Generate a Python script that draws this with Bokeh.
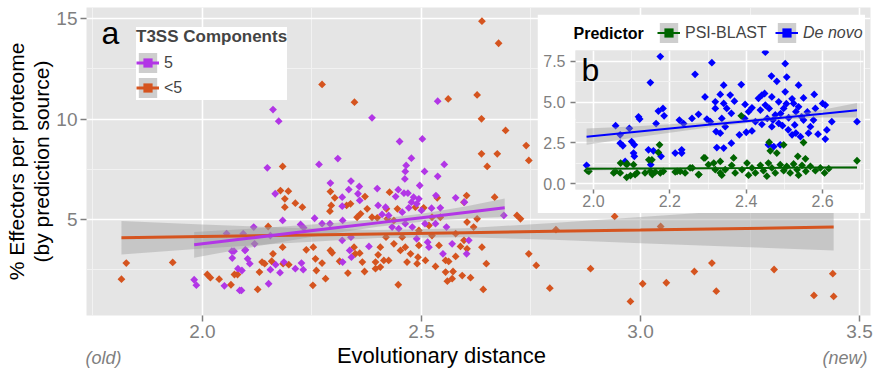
from bokeh.plotting import figure
from bokeh.models import (FixedTicker, Label, Legend, LegendItem, NumeralTickFormatter, Range1d, GridBox)
from bokeh.embed import file_html
from bokeh.resources import INLINE

# ---------------- data: main panel (a) ----------------
orange_x = [1.826, 1.815, 1.932, 2.011, 2.018, 2.038, 2.065, 2.073, 2.080, 2.347, 2.183, 2.196, 2.178,
            2.188, 2.188, 2.212, 2.228, 2.292, 2.302, 2.294, 2.291, 2.329, 2.338, 2.371, 2.376, 2.150,
            2.183, 2.161, 2.136, 2.142, 2.158, 2.184, 2.197, 2.130, 2.126, 2.252, 2.237, 2.253, 2.258,
            2.273, 2.260, 2.281, 2.292, 2.296, 2.313, 2.332, 2.346, 2.349, 2.359, 2.365, 2.370, 2.395,
            2.401, 2.406, 2.414, 2.406, 2.395, 2.419, 2.353, 2.361, 2.387, 2.399, 2.422, 2.561, 2.627,
            2.637, 2.692, 2.739, 2.745, 2.637, 2.673, 2.650, 2.603, 2.597, 2.667, 2.536, 2.427, 2.420,
            2.445, 2.505, 2.486, 2.718, 2.726, 2.627, 2.604, 2.619, 2.578, 2.597, 2.589, 2.604, 2.638,
            2.578, 2.555, 2.562, 2.532, 2.509, 2.492, 2.648, 2.555, 2.572, 2.593, 2.612, 2.570, 2.559,
            2.641, 2.447, 2.745, 2.762, 2.463, 2.475, 2.467, 2.490, 2.452, 2.437, 2.425, 2.494, 2.456,
            2.524, 2.540, 2.437, 2.524, 2.543, 2.517, 2.494, 2.273, 2.638, 2.676, 2.793, 2.886, 2.941,
            2.977, 3.005, 3.059, 3.123, 3.163, 3.173, 3.305, 3.396, 3.439, 3.441, 2.807, 3.046]
orange_y = [2.83, 2.03, 2.86, 2.26, 2.10, 2.03, 1.75, 2.26, 2.26, 10.84, 7.64, 6.41, 6.44,
            6.03, 5.61, 5.81, 5.61, 6.39, 6.08, 5.70, 5.41, 5.70, 5.78, 6.14, 5.53, 4.65,
            3.62, 3.29, 2.88, 2.80, 2.92, 2.80, 2.75, 2.38, 1.52, 1.72, 3.49, 3.62, 3.04,
            2.83, 2.46, 2.05, 3.46, 3.34, 2.92, 2.33, 3.62, 3.29, 3.32, 2.88, 2.41, 2.88,
            3.24, 3.62, 2.96, 2.63, 2.55, 4.12, 5.11, 5.28, 5.11, 5.08, 5.03, 11.00, 11.20,
            10.01, 9.43, 8.68, 7.94, 8.27, 8.27, 7.64, 6.19, 5.86, 6.11, 6.08, 6.36, 5.53,
            5.53, 5.58, 5.61, 5.20, 5.03, 5.03, 4.87, 4.62, 4.29, 3.96, 3.66, 3.54, 3.62,
            3.16, 2.96, 2.91, 2.66, 2.96, 3.12, 2.80, 2.38, 2.41, 2.21, 2.10, 2.05, 1.93,
            1.52, 1.75, 3.29, 2.71, 3.62, 3.29, 2.88, 2.80, 3.46, 3.79, 2.96, 3.71, 4.12,
            4.20, 3.71, 4.95, 5.11, 5.11, 4.70, 4.45, 11.72, 14.87, 13.77, 1.58, 2.55, 5.15,
            0.92, 1.80, 1.85, 2.41, 2.83, 1.43, 2.51, 1.22, 2.30, 1.17, 4.49, 4.65]

purple_x = [1.981, 1.986, 2.050, 2.085, 2.067, 2.072, 2.068, 2.081, 2.090, 2.097, 2.055, 2.093,
            2.161, 2.174, 2.148, 2.266, 2.309, 2.387, 2.166, 2.183, 2.117, 2.119, 2.098, 2.103,
            2.108, 2.089, 2.151, 2.177, 2.167, 2.155, 2.186, 2.212, 2.226, 2.230, 2.224, 2.256,
            2.273, 2.292, 2.291, 2.319, 2.319, 2.320, 2.339, 2.334, 2.358, 2.355, 2.359, 2.399,
            2.401, 2.418, 2.410, 2.319, 2.336, 2.340, 2.320, 2.380, 2.339, 2.231, 2.155, 2.537,
            2.450, 2.502, 2.477, 2.465, 2.463, 2.462, 2.507, 2.552, 2.537, 2.496, 2.447, 2.460,
            2.469, 2.441, 2.482, 2.494, 2.477, 2.489, 2.533, 2.578, 2.598, 2.543, 2.523, 2.500,
            2.471, 2.456, 2.425, 2.688, 2.433, 2.448, 2.463, 2.479, 2.508, 2.532, 2.557, 2.608,
            2.570, 2.514, 2.489, 2.517, 2.603, 2.549]
purple_y = [2.00, 1.73, 1.70, 1.47, 3.42, 3.42, 3.08, 2.55, 2.46, 3.46, 4.30, 4.29,
            10.47, 9.89, 7.57, 7.74, 8.03, 10.06, 6.28, 4.95, 4.62, 3.79, 3.49, 3.04,
            2.80, 1.47, 1.80, 2.35, 2.75, 2.50, 2.88, 2.55, 2.83, 2.50, 4.75, 5.06,
            4.79, 6.81, 4.79, 6.11, 5.66, 4.95, 6.91, 6.49, 6.64, 6.28, 5.95, 6.54,
            5.70, 5.61, 5.25, 3.96, 3.46, 3.12, 2.88, 3.66, 4.12, 4.59, 4.20, 10.89,
            8.88, 9.01, 8.05, 7.69, 7.39, 7.02, 7.39, 7.74, 7.15, 6.69, 6.48, 6.31,
            6.31, 6.14, 6.11, 6.03, 5.86, 5.78, 6.19, 6.08, 5.86, 5.58, 5.56, 5.45,
            5.58, 5.36, 5.20, 5.20, 4.62, 4.54, 4.79, 4.62, 4.79, 4.79, 4.62, 3.96,
            3.79, 3.87, 4.04, 3.62, 3.29, 3.29]

# fitted lines with confidence bands
orange_fit_x = [1.815, 2.0, 2.2, 2.4, 2.6, 2.8, 3.0, 3.2, 3.441]
orange_fit_y = [4.09, 4.15, 4.21, 4.28, 4.34, 4.41, 4.47, 4.54, 4.62]
orange_fit_lo = [3.26, 3.55, 3.83, 4.08, 4.12, 3.99, 3.82, 3.66, 3.46]
orange_fit_hi = [4.92, 4.75, 4.59, 4.48, 4.56, 4.83, 5.12, 5.42, 5.78]

purple_fit_x = [1.981, 2.1, 2.2, 2.3, 2.4, 2.5, 2.6, 2.69]
purple_fit_y = [3.74, 4.05, 4.31, 4.57, 4.83, 5.09, 5.35, 5.58]
purple_fit_lo = [3.10, 3.57, 3.95, 4.32, 4.64, 4.89, 5.05, 5.12]
purple_fit_hi = [4.38, 4.53, 4.67, 4.82, 5.02, 5.29, 5.65, 6.04]

main_x_ticks = [2.0, 2.5, 3.0, 3.5]
main_x_minor = [1.75, 2.25, 2.75, 3.25]
main_y_ticks = [5, 10, 15]
main_y_minor = [2.5, 7.5, 12.5]

# ---------------- data: inset panel (b) ----------------
blue_x = [2.175, 2.310, 2.266, 2.149, 2.292, 2.319, 2.332, 2.182, 2.170, 2.185, 2.118, 2.121, 2.058,
          2.164, 2.225, 2.236, 2.258, 2.275, 2.297, 2.306, 2.094, 2.070, 2.070, 2.077, 2.100, 2.107,
          2.105, 2.107, 2.083, 2.144, 2.157, 2.177, 2.150, 2.214, 2.231, 2.231, 2.321, 2.323, 2.319,
          1.982, 2.336, 2.450, 2.502, 2.466, 2.480, 2.506, 2.537, 2.387, 2.341, 2.358, 2.369, 2.341,
          2.349, 2.361, 2.397, 2.415, 2.406, 2.396, 2.441, 2.448, 2.467, 2.485, 2.450, 2.437, 2.460,
          2.476, 2.498, 2.524, 2.537, 2.550, 2.578, 2.581, 2.600, 2.530, 2.511, 2.485, 2.467, 2.441,
          2.424, 2.415, 2.400, 2.382, 2.361, 2.341, 2.332, 2.345, 2.520, 2.542, 2.563, 2.568, 2.588,
          2.607, 2.611, 2.624, 2.550, 2.576, 2.527, 2.458, 2.472, 2.489, 2.690, 2.607, 2.502, 2.432,
          2.455, 2.470, 2.490, 2.510, 2.530, 2.545, 2.560, 2.505, 2.520, 2.495]
blue_y = [7.80, 7.42, 6.71, 6.20, 5.32, 5.02, 5.47, 4.61, 4.45, 4.16, 4.10, 3.96, 3.55,
          3.68, 3.90, 3.68, 4.00, 4.25, 3.96, 3.80, 3.39, 2.99, 2.48, 2.32, 2.58, 2.38,
          1.87, 1.67, 1.36, 2.07, 2.01, 1.67, 1.16, 1.87, 2.07, 1.87, 3.19, 2.21, 4.61,
          1.12, 4.00, 8.07, 7.36, 6.60, 6.28, 6.54, 6.04, 6.08, 6.04, 5.43, 5.06, 4.92,
          4.61, 4.31, 4.86, 4.65, 4.41, 4.00, 5.43, 5.53, 5.32, 5.02, 4.82, 4.51, 4.61,
          4.21, 4.61, 4.92, 4.71, 5.26, 5.47, 4.61, 4.92, 4.41, 4.04, 3.70, 3.49, 3.64,
          3.80, 3.23, 3.15, 2.99, 2.48, 2.18, 3.09, 3.49, 2.99, 2.88, 3.09, 3.49, 3.03,
          2.73, 3.29, 3.80, 3.90, 3.90, 3.60, 2.38, 2.27, 2.38, 3.80, 4.82, 5.63, 5.23,
          4.00, 3.90, 4.30, 3.30, 3.10, 4.10, 4.40, 4.90, 5.20, 3.55]

green_x = [2.173, 2.170, 2.153, 1.984, 2.057, 2.070, 2.087, 2.105, 2.087, 2.109, 2.135, 2.162, 2.175,
           2.183, 2.214, 2.227, 2.240, 2.253, 2.275, 2.292, 2.301, 2.319, 2.332, 2.332, 2.149, 2.387,
           2.460, 2.463, 2.480, 2.498, 2.550, 2.367, 2.535, 2.555, 2.690, 2.345, 2.362, 2.371, 2.389,
           2.402, 2.415, 2.424, 2.437, 2.445, 2.458, 2.467, 2.476, 2.489, 2.498, 2.506, 2.515, 2.524,
           2.533, 2.546, 2.556, 2.568, 2.581, 2.594, 2.605, 2.616, 2.336, 2.406, 2.454, 2.537, 1.988,
           2.053, 2.071, 2.088, 2.097, 2.114, 2.145, 2.154, 2.219, 2.259, 2.276, 2.289, 2.315]
green_y = [2.38, 1.91, 1.46, 0.79, 0.75, 0.65, 1.16, 1.16, 0.38, 0.55, 0.65, 0.71, 0.65,
           0.75, 0.71, 0.75, 0.65, 0.96, 0.55, 1.57, 1.16, 0.85, 1.36, 0.65, 0.75, 4.16,
           2.54, 2.01, 1.87, 2.38, 2.52, 1.57, 1.67, 1.52, 1.40, 0.85, 1.12, 0.65, 0.85,
           1.26, 0.96, 0.65, 1.12, 0.79, 1.26, 0.96, 0.65, 1.16, 0.79, 1.06, 0.65, 1.20,
           0.85, 1.12, 0.75, 1.06, 0.79, 0.96, 0.65, 0.91, 0.51, 0.51, 0.45, 0.51, 0.75,
           0.65, 1.26, 1.22, 0.49, 0.65, 1.46, 0.55, 0.75, 0.96, 0.55, 1.57, 1.26]

blue_fit_x = [1.982, 2.1, 2.2, 2.3, 2.4, 2.5, 2.6, 2.69]
blue_fit_y = [2.88, 3.15, 3.38, 3.61, 3.83, 4.06, 4.29, 4.50]
blue_fit_lo = [2.38, 2.79, 3.12, 3.44, 3.71, 3.93, 4.05, 4.05]
blue_fit_hi = [3.38, 3.51, 3.64, 3.78, 3.95, 4.19, 4.53, 4.95]

green_fit_x = [1.982, 2.1, 2.2, 2.3, 2.4, 2.5, 2.6, 2.69]
green_fit_y = [0.91, 0.92, 0.93, 0.94, 0.95, 0.97, 0.98, 0.99]
green_fit_lo = [0.79, 0.84, 0.87, 0.90, 0.92, 0.94, 0.93, 0.90]
green_fit_hi = [1.03, 1.00, 0.99, 0.98, 0.98, 1.00, 1.03, 1.08]

inset_x_ticks = [2.0, 2.2, 2.4, 2.6]
inset_x_minor = [2.1, 2.3, 2.5, 2.7]
inset_y_ticks = [0.0, 2.5, 5.0, 7.5]
inset_y_minor = [1.25, 3.75, 6.25]

# ---------------- style ----------------
FONT = "Liberation Sans"
PURPLE = "#B236E6"
ORANGE = "#D5541F"
BLUE = "#0000FF"
GREEN = "#006400"
PANEL = "#E5E5E5"
TICK = "#7F7F7F"
BAND = "#999999"
KEYBG = "#CECECE"


def style_axes(fig, tick_size, title_size):
    for ax in (fig.xaxis[0], fig.yaxis[0]):
        ax.axis_line_color = None
        ax.major_tick_line_color = TICK
        ax.major_tick_line_width = 1.5
        ax.major_tick_in = 0
        ax.major_tick_out = 6
        ax.minor_tick_line_color = None
        ax.major_label_text_color = TICK
        ax.major_label_text_font = FONT
        ax.major_label_text_font_size = tick_size
        ax.major_label_standoff = 3
        ax.axis_label_text_font = FONT
        ax.axis_label_text_font_style = "normal"
        ax.axis_label_text_color = "black"
        ax.axis_label_text_font_size = title_size
        ax.axis_label_text_line_height = 1.1
        ax.axis_label_standoff = 0
    for g in (fig.xgrid[0], fig.ygrid[0]):
        g.grid_line_color = "white"
        g.grid_line_width = 1.6
        g.minor_grid_line_color = "#F2F2F2"
        g.minor_grid_line_width = 1


def blank_strip(w, h):
    f = figure(width=w, height=h, x_range=Range1d(0, 1), y_range=Range1d(0, 1), title=None,
               output_backend="svg", toolbar_location=None, x_axis_type=None, y_axis_type=None,
               min_border_left=0, min_border_right=0, min_border_top=0, min_border_bottom=0,
               frame_align=False)
    f.background_fill_alpha = 0
    f.border_fill_alpha = 0
    f.outline_line_color = None
    f.grid.visible = False
    return f


# ---------------- main figure ----------------
p = figure(width=873, height=369, x_range=Range1d(1.7352, 3.5251), y_range=Range1d(0.22, 15.55),
           output_backend="svg", toolbar_location=None, frame_align=False,
           min_border_left=86, min_border_right=3, min_border_top=7, min_border_bottom=54)
p.background_fill_color = PANEL
p.border_fill_color = "white"
p.outline_line_color = None
p.xaxis.ticker = FixedTicker(ticks=main_x_ticks, minor_ticks=main_x_minor)
p.yaxis.ticker = FixedTicker(ticks=main_y_ticks, minor_ticks=main_y_minor)
p.xaxis.formatter = NumeralTickFormatter(format="0.0")
p.yaxis.axis_label = "% Effectors per proteome\n(by prediction source)"
style_axes(p, "19px", "21px")

o_pts = p.scatter(orange_x, orange_y, marker="square", size=5.5, angle=45, angle_units="deg",
                  fill_color=ORANGE, line_color=None)
p_pts = p.scatter(purple_x, purple_y, marker="square", size=5.5, angle=45, angle_units="deg",
                  fill_color=PURPLE, line_color=None)
p.varea(x=orange_fit_x, y1=orange_fit_lo, y2=orange_fit_hi, fill_color=BAND, fill_alpha=0.4)
p.varea(x=purple_fit_x, y1=purple_fit_lo, y2=purple_fit_hi, fill_color=BAND, fill_alpha=0.4)
o_line = p.line(orange_fit_x, orange_fit_y, line_color=ORANGE, line_width=3)
p_line = p.line(purple_fit_x, purple_fit_y, line_color=PURPLE, line_width=3)
# legend-key background (only shown inside the legend)
key_bg = p.quad(left=orange_fit_x[:1], right=orange_fit_x[-1:], bottom=orange_fit_lo[:1],
                top=orange_fit_hi[:1], fill_color=KEYBG, line_color=None, visible=False)

legend = Legend(items=[LegendItem(label="5", renderers=[key_bg, p_line, p_pts]),
                       LegendItem(label="<5", renderers=[key_bg, o_line, o_pts])],
                location=(50, 215), title="T3SS Components",
                title_text_font=FONT, title_text_font_style="bold", title_text_font_size="17px",
                title_standoff=3, label_text_font=FONT, label_text_font_size="16px",
                label_standoff=5, glyph_width=23, glyph_height=25, spacing=0,
                padding=5, margin=0, border_line_color=None,
                background_fill_color="white", background_fill_alpha=1)
p.add_layout(legend)
p.add_layout(Label(x=15, y=283, x_units="screen", y_units="screen", text="a",
                   text_font=FONT, text_font_size="32px", text_color="black",
                   text_baseline="middle"))

# ---------------- bottom text strip (x title and old/new marks) ----------------
t = blank_strip(873, 70)
t.add_layout(Label(x=85, y=12, x_units="screen", y_units="screen", text="(old)",
                   text_font=FONT, text_font_size="18px", text_font_style="italic",
                   text_color=TICK, text_baseline="middle", text_align="left"))
t.add_layout(Label(x=867, y=12, x_units="screen", y_units="screen", text="(new)",
                   text_font=FONT, text_font_size="18px", text_font_style="italic",
                   text_color=TICK, text_baseline="middle", text_align="right"))
t.add_layout(Label(x=441, y=14, x_units="screen", y_units="screen", text="Evolutionary distance",
                   text_font=FONT, text_font_size="22px", text_color="black",
                   text_baseline="middle", text_align="center"))
t.margin = (299, 0, 0, 0)

# ---------------- inset figure ----------------
q = figure(width=328, height=199, x_range=Range1d(1.953, 2.707), y_range=Range1d(-0.366, 8.17),
           output_backend="svg", toolbar_location=None, frame_align=False,
           min_border_left=38, min_border_right=2, min_border_top=36, min_border_bottom=24)
q.background_fill_color = PANEL
q.border_fill_color = "white"
q.outline_line_color = None
q.xaxis.ticker = FixedTicker(ticks=inset_x_ticks, minor_ticks=inset_x_minor)
q.yaxis.ticker = FixedTicker(ticks=inset_y_ticks, minor_ticks=inset_y_minor)
q.xaxis.formatter = NumeralTickFormatter(format="0.0")
q.yaxis.formatter = NumeralTickFormatter(format="0.0")
style_axes(q, "16px", "16px")
q.xaxis.major_tick_out = 4
q.xaxis.major_label_standoff = 1
q.yaxis.major_tick_out = 5
q.yaxis.major_label_standoff = 5

q.scatter(blue_x, blue_y, marker="square", size=5.5, angle=45, angle_units="deg",
          fill_color=BLUE, line_color=None)
q.scatter(green_x, green_y, marker="square", size=5.5, angle=45, angle_units="deg",
          fill_color=GREEN, line_color=None)
q.varea(x=blue_fit_x, y1=blue_fit_lo, y2=blue_fit_hi, fill_color=BAND, fill_alpha=0.4)
q.varea(x=green_fit_x, y1=green_fit_lo, y2=green_fit_hi, fill_color=BAND, fill_alpha=0.4)
q.line(blue_fit_x, blue_fit_y, line_color=BLUE, line_width=2)
q.line(green_fit_x, green_fit_y, line_color=GREEN, line_width=2)
q.add_layout(Label(x=6, y=120, x_units="screen", y_units="screen", text="b",
                   text_font=FONT, text_font_size="32px", text_color="black",
                   text_baseline="middle"))
q.margin = (14, 0, 0, 537)

# ---------------- inset legend strip (legend glyph sources lie outside its 0..1 ranges) ----------------
r = blank_strip(328, 36)
r_bg = r.quad(left=blue_fit_x[:1], right=blue_fit_x[-1:], bottom=blue_fit_lo[:1],
              top=blue_fit_hi[:1], fill_color=KEYBG, line_color=None)
r_gl = r.line(green_fit_x, green_fit_y, line_color=GREEN, line_width=2)
r_gp = r.scatter(green_x, green_y, marker="square", size=5.5, angle=45, angle_units="deg",
                 fill_color=GREEN, line_color=None)
r_bl = r.line(blue_fit_x, blue_fit_y, line_color=BLUE, line_width=2)
r_bp = r.scatter(blue_x, blue_y, marker="square", size=5.5, angle=45, angle_units="deg",
                 fill_color=BLUE, line_color=None)
common = dict(label_text_font=FONT, label_text_font_size="16px", label_standoff=5,
              glyph_width=23, glyph_height=25, spacing=0, padding=0, margin=0,
              border_line_color=None, background_fill_alpha=0, orientation="horizontal")
r.add_layout(Legend(items=[LegendItem(label="PSI-BLAST", renderers=[r_bg, r_gl, r_gp])],
                    location=(120, 5), **common))
r.add_layout(Legend(items=[LegendItem(label="De novo", renderers=[r_bg, r_bl, r_bp])],
                    location=(238, 5), label_text_font_style="italic", **common))
r.add_layout(Label(x=36, y=17, x_units="screen", y_units="screen", text="Predictor",
                   text_font=FONT, text_font_size="16px", text_font_style="bold",
                   text_color="black", text_baseline="middle", text_align="left"))
r.margin = (14, 0, 0, 537)

layout = GridBox(children=[(p, 0, 0), (q, 0, 0), (r, 0, 0), (t, 0, 0)])

open("out.html", "w").write(file_html(layout, INLINE))
